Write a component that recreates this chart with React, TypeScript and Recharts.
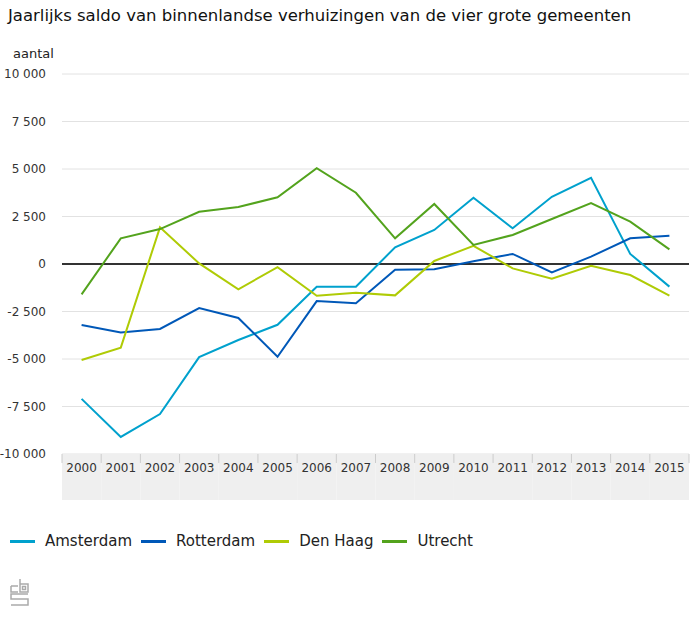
import { CartesianGrid, Legend, Line, LineChart, ReferenceLine, XAxis, YAxis } from 'recharts';

const jaren = ['2000', '2001', '2002', '2003', '2004', '2005', '2006', '2007', '2008', '2009', '2010', '2011', '2012', '2013', '2014', '2015'];

const amsterdam = [-7100, -9100, -7900, -4900, -4000, -3200, -1200, -1200, 880, 1790, 3490, 1880, 3540, 4540, 530, -1190];
const rotterdam = [-3210, -3600, -3420, -2320, -2840, -4880, -1950, -2070, -300, -280, 140, 530, -440, 390, 1350, 1490];
const denHaag = [-5050, -4400, 1930, 30, -1330, -170, -1670, -1510, -1650, 160, 960, -230, -770, -90, -580, -1670];
const utrecht = [-1600, 1350, 1840, 2750, 3000, 3510, 5040, 3750, 1350, 3160, 1000, 1530, 2370, 3210, 2230, 770];

const yTicks = [-10000, -7500, -5000, -2500, 0, 2500, 5000, 7500, 10000];

const series = [
  { key: 'amsterdam', naam: 'Amsterdam', kleur: '#00a1cd' },
  { key: 'rotterdam', naam: 'Rotterdam', kleur: '#0058b8' },
  { key: 'denHaag', naam: 'Den Haag', kleur: '#afcb05' },
  { key: 'utrecht', naam: 'Utrecht', kleur: '#53a31d' },
];

const data = jaren.map((jaar, i) => ({
  jaar,
  amsterdam: amsterdam[i],
  rotterdam: rotterdam[i],
  denHaag: denHaag[i],
  utrecht: utrecht[i],
}));

const FONT = '"DejaVu Sans", Verdana, sans-serif';

function formatAantal(v: number) {
  const s = Math.abs(v).toString().replace(/\B(?=(\d{3})+(?!\d))/g, ' ');
  return (v < 0 ? '-' : '') + s;
}

function JaarTick(props: any) {
  const { x, y, payload, index, width, visibleTicksCount } = props;
  const count = visibleTicksCount || jaren.length;
  const half = width ? width / count / 2 : 19.6;
  const last = index === count - 1;
  return (
    <g>
      <rect x={x - half} y={y} width={half * 2} height={46} fill="#efefef" />
      <line x1={x - half} y1={y} x2={x - half} y2={y + 9} stroke="#cccccc" />
      {last && <line x1={x + half} y1={y} x2={x + half} y2={y + 9} stroke="#cccccc" />}
      <text x={x} y={y + 18} textAnchor="middle" fontSize={12} fill="#333" fontFamily={FONT}>
        {payload.value}
      </text>
    </g>
  );
}

function Legenda() {
  return (
    <div style={{ display: 'flex', height: 20, alignItems: 'center', fontFamily: FONT, fontSize: 15, color: '#222' }}>
      {series.map((s) => (
        <div key={s.key} style={{ display: 'flex', alignItems: 'center', marginRight: 9 }}>
          <span style={{ display: 'inline-block', width: 25, height: 3, background: s.kleur, marginRight: 10 }} />
          <span>{s.naam}</span>
        </div>
      ))}
    </div>
  );
}

export default function App() {
  return (
    <div style={{ position: 'absolute', left: 0, top: 0, width: 700, height: 626, background: '#fff', fontFamily: FONT }}>
      <div style={{ position: 'absolute', left: 8, top: 6, fontSize: 16.5, color: '#111', whiteSpace: 'nowrap' }}>
        Jaarlijks saldo van binnenlandse verhuizingen van de vier grote gemeenten
      </div>
      <div style={{ position: 'absolute', left: 13, top: 46, fontSize: 13, color: '#222' }}>aantal</div>
      <LineChart
        width={700}
        height={580}
        data={data}
        margin={{ top: 74, right: 11, left: 0, bottom: 60 }}
        style={{ position: 'absolute', left: 0, top: 0 }}
      >
        <CartesianGrid vertical={false} stroke="#e2e2e2" />
        <XAxis
          dataKey="jaar"
          scale="band"
          height={46}
          tickLine={false}
          tickSize={0}
          tickMargin={0}
          axisLine={false}
          interval={0}
          tick={<JaarTick />}
        />
        <YAxis
          width={62}
          domain={[-10000, 10000]}
          ticks={yTicks}
          tickFormatter={formatAantal}
          axisLine={false}
          tickLine={false}
          tickSize={0}
          tickMargin={16}
          tick={{ fontSize: 12, fill: '#333', fontFamily: FONT }}
        />
        <ReferenceLine y={0} stroke="#333" strokeWidth={2} />
        {series.map((s) => (
          <Line
            key={s.key}
            dataKey={s.key}
            name={s.naam}
            stroke={s.kleur}
            strokeWidth={2}
            dot={false}
            activeDot={false}
            type="linear"
            isAnimationActive={false}
          />
        ))}
        <Legend content={<Legenda />} wrapperStyle={{ position: 'absolute', left: 10, top: 531, width: 600, height: 20 }} />
      </LineChart>
      <svg style={{ position: 'absolute', left: 10, top: 578 }} width={20} height={28}>
        <g fill="none" stroke="#aaa" strokeWidth={1.5}>
          <path d="M1 8 H8 M1 8 V14 H8" />
          <path d="M10 1 V14 H18 V6 H10" />
          <rect x={12.5} y={8.5} width={3} height={3} />
          <path d="M18 16 H1 V21 H18 V27 H1" />
        </g>
      </svg>
    </div>
  );
}
